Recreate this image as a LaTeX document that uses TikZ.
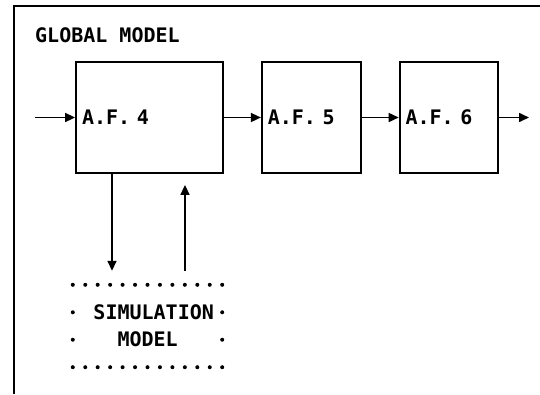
\documentclass[tikz,border=0pt]{standalone}
\usepackage{fontspec}
\newfontfamily\lpfont{DejaVu Sans Mono}
\usetikzlibrary{%
arrows.meta,%
calc,%
positioning}

\tikzset{
  lp/.style={font=\lpfont\bfseries\fontsize{20}{27}\selectfont},
  afbox/.style={draw, line width=1.8pt, lp, minimum height=111pt,
    inner xsep=6pt, inner ysep=0pt, align=left, text width=#1},
  simbox/.style={minimum width=149pt, minimum height=82pt, inner sep=0pt},
  flow/.style={line width=1.6pt, -{Triangle[length=10pt,width=9pt]}},
}

\begin{document}
\begin{tikzpicture}[x=1pt,y=-1pt]
\useasboundingbox (0,0) rectangle (540,394);
% frame of the global model
\draw[line width=1.5pt] (14,394) -- (14,6) -- (540,6);
\node[lp, anchor=west, inner sep=0pt] (title) at (35,35.5) {GLOBAL MODEL};

% activity frames
\node[afbox=135pt] (af4) at (149.5,117.5) {A.F. 4};
\node[afbox=87pt, right=37pt of af4] (af5) {A.F. 5};
\node[afbox=86pt, right=37pt of af5] (af6) {A.F. 6};
\coordinate (in) at (35,117.5);
\coordinate (out) at (529,117.5);
\draw[flow] (in) -- (af4);
\draw[flow] (af4) -- (af5);
\draw[flow] (af5) -- (af6);
\draw[flow] (af6) -- (out);

% dotted simulation model
\node[simbox] (sim) at (147.5,326) {};
\node[lp, align=center, inner sep=0pt] (simtext) at ([xshift=6.2pt]sim.center)
  {SIMULATION\\MODEL\hphantom{M}};
\foreach \k in {0,...,12} {
  \fill ($(sim.north west)!\k/12!(sim.north east)$) circle (2pt);
  \fill ($(sim.south west)!\k/12!(sim.south east)$) circle (2pt);
}
\foreach \k in {1,2} {
  \fill ($(sim.north west)!\k/3!(sim.south west)$) circle (2pt);
  \fill ($(sim.north east)!\k/3!(sim.south east)$) circle (2pt);
}
\coordinate (dn) at (112,0);
\coordinate (up) at (185,0);
\draw[flow, shorten >=14pt] (af4.south -| dn) -- (sim.north -| dn);
\draw[flow, shorten <=14pt, shorten >=11pt] (sim.north -| up) -- (af4.south -| up);
\end{tikzpicture}
\end{document}
